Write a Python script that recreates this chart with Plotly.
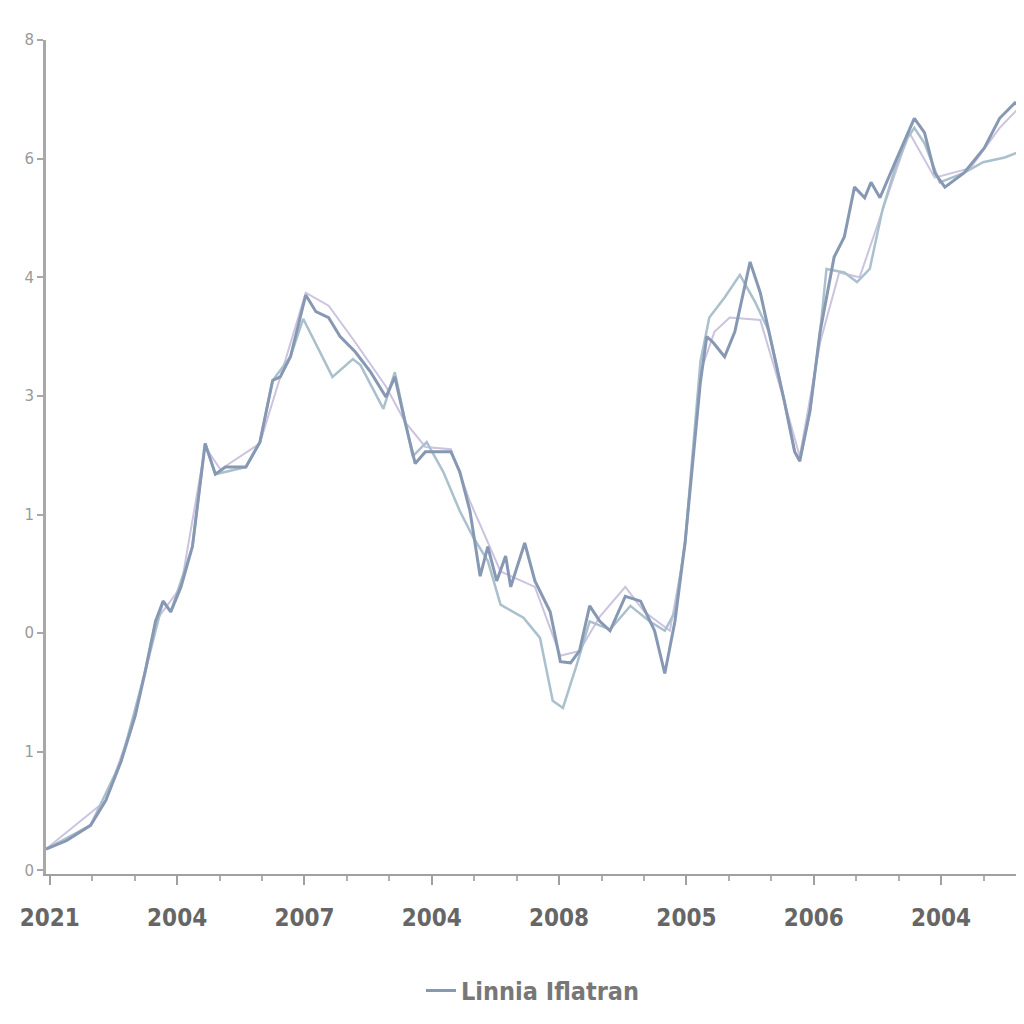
import plotly.graph_objects as go

# x positions in tick units (one unit = one labelled tick), y in axis units
tick_pos = [0, 1, 2, 3, 4, 5, 6, 7]
tick_labels = ["2021", "2004", "2007", "2004", "2008", "2005", "2006", "2004"]
ytick_pos = [0, 1, 2, 3, 4, 5, 6, 7]
ytick_labels = ["0", "1", "0", "1", "3", "4", "6", "8"]
legend_name = "Linnia Iflatran"

# main series (darker blue-grey)
main_x = [-0.03, 0.13, 0.32, 0.44, 0.56, 0.67, 0.75, 0.83, 0.89, 0.95, 1.03, 1.12,
          1.22, 1.30, 1.38, 1.54, 1.65, 1.75, 1.81, 1.89, 2.01, 2.09, 2.19, 2.28,
          2.40, 2.52, 2.64, 2.71, 2.79, 2.87, 2.95, 3.15, 3.22, 3.30, 3.38, 3.44,
          3.51, 3.58, 3.62, 3.73, 3.81, 3.93, 4.01, 4.09, 4.16, 4.24, 4.32, 4.40,
          4.52, 4.64, 4.75, 4.83, 4.91, 4.99, 5.11, 5.16, 5.21, 5.30, 5.38, 5.50,
          5.58, 5.65, 5.77, 5.85, 5.89, 5.97, 6.05, 6.16, 6.24, 6.32, 6.40, 6.45,
          6.52, 6.64, 6.74, 6.79, 6.87, 6.95, 7.03, 7.18, 7.34, 7.46, 7.58, 7.65]
main_y = [0.18, 0.25, 0.38, 0.59, 0.92, 1.30, 1.68, 2.10, 2.27, 2.18, 2.39, 2.73,
          3.60, 3.34, 3.40, 3.40, 3.61, 4.13, 4.16, 4.33, 4.85, 4.71, 4.66, 4.50,
          4.37, 4.20, 3.99, 4.16, 3.78, 3.43, 3.53, 3.53, 3.36, 3.03, 2.48, 2.73,
          2.44, 2.65, 2.39, 2.76, 2.44, 2.18, 1.76, 1.75, 1.85, 2.23, 2.10, 2.02,
          2.31, 2.27, 2.02, 1.66, 2.10, 2.77, 4.12, 4.50, 4.45, 4.33, 4.54, 5.13,
          4.87, 4.54, 3.95, 3.53, 3.45, 3.87, 4.54, 5.17, 5.34, 5.76, 5.67, 5.80,
          5.67, 5.97, 6.22, 6.34, 6.22, 5.88, 5.76, 5.88, 6.09, 6.34, 6.47, 6.43]

# second series (light teal-grey)
teal_x = [-0.03, 0.32, 0.56, 0.75, 0.89, 0.95, 1.12, 1.22, 1.30, 1.54, 1.65, 1.75,
          1.89, 1.99, 2.22, 2.38, 2.44, 2.62, 2.71, 2.85, 2.96, 3.09, 3.22, 3.33,
          3.44, 3.54, 3.72, 3.85, 3.95, 4.03, 4.14, 4.24, 4.40, 4.56, 4.71, 4.83,
          4.91, 4.99, 5.11, 5.18, 5.30, 5.42, 5.54, 5.65, 5.77, 5.85, 5.89, 5.97,
          6.05, 6.10, 6.24, 6.34, 6.44, 6.54, 6.64, 6.74, 6.79, 6.87, 6.99, 7.18,
          7.33, 7.50, 7.67]
teal_y = [0.18, 0.38, 0.92, 1.68, 2.27, 2.18, 2.73, 3.60, 3.34, 3.40, 3.61, 4.13,
          4.33, 4.65, 4.16, 4.31, 4.26, 3.89, 4.20, 3.49, 3.61, 3.36, 3.03, 2.80,
          2.61, 2.24, 2.13, 1.96, 1.43, 1.37, 1.74, 2.10, 2.03, 2.23, 2.10, 2.02,
          2.18, 2.77, 4.29, 4.66, 4.83, 5.02, 4.79, 4.54, 3.95, 3.53, 3.45, 3.87,
          4.54, 5.07, 5.04, 4.96, 5.07, 5.57, 5.92, 6.18, 6.26, 6.13, 5.80, 5.88,
          5.97, 6.01, 6.08]

# third series (faint lavender)
lav_x = [-0.03, 0.44, 0.67, 0.83, 1.03, 1.22, 1.34, 1.65, 1.81, 2.01, 2.19, 2.40,
         2.64, 2.79, 2.95, 3.15, 3.30, 3.54, 3.81, 4.01, 4.16, 4.32, 4.52, 4.67,
         4.87, 4.99, 5.11, 5.22, 5.34, 5.58, 5.77, 5.89, 6.05, 6.20, 6.36, 6.52,
         6.75, 6.95, 7.23, 7.46, 7.58, 7.65]
lav_y = [0.18, 0.59, 1.30, 2.10, 2.39, 3.57, 3.38, 3.60, 4.16, 4.87, 4.76, 4.45,
         4.08, 3.78, 3.57, 3.55, 3.11, 2.52, 2.39, 1.81, 1.85, 2.14, 2.39, 2.18,
         2.02, 2.73, 4.20, 4.54, 4.66, 4.64, 3.95, 3.49, 4.45, 5.04, 5.00, 5.50,
         6.22, 5.84, 5.92, 6.26, 6.39, 6.47]

fig = go.Figure()
fig.add_trace(go.Scatter(x=lav_x, y=lav_y, mode="lines", showlegend=False,
                         line=dict(color="#cbc3df", width=2)))
fig.add_trace(go.Scatter(x=teal_x, y=teal_y, mode="lines", showlegend=False,
                         line=dict(color="#aac0cd", width=2.5)))
fig.add_trace(go.Scatter(x=main_x, y=main_y, mode="lines", name=legend_name,
                         line=dict(color="#8798b3", width=3)))

axis_font = dict(family="DejaVu Sans Condensed, sans-serif",
                 size=24, color="#666666", weight=600)

fig.update_layout(
    width=1024, height=1024,
    margin=dict(l=28, r=12, t=32, b=158),
    paper_bgcolor="white", plot_bgcolor="white",
    showlegend=True,
    legend=dict(orientation="h", x=0.5, xanchor="center", y=-0.14, yanchor="middle",
                font=dict(family="DejaVu Sans Condensed, sans-serif", size=25,
                          color="#777777", weight=600),
                bgcolor="rgba(0,0,0,0)"),
    xaxis=dict(range=[-0.03, 7.62], showgrid=False, zeroline=False,
               showline=True, linecolor="#a0a0a0", linewidth=2,
               tickmode="array", tickvals=tick_pos, ticktext=tick_labels,
               ticks="outside", ticklen=9, tickwidth=2, tickcolor="#a0a0a0",
               tickfont=axis_font, ticklabelstandoff=12,
               minor=dict(dtick=1/3, ticks="outside", ticklen=5, tickcolor="#b0b0b0", tickwidth=1.5)),
    yaxis=dict(range=[-0.03, 7.0], showgrid=False, zeroline=False,
               showline=True, linecolor="#a8a8a8", linewidth=3,
               tickmode="array", tickvals=ytick_pos, ticktext=ytick_labels,
               ticks="outside", ticklen=6, tickwidth=2, tickcolor="#a8a8a8",
               tickfont=dict(family="DejaVu Sans, sans-serif", size=15, color="#9a9a9a")),
)

fig.write_html("out.html")
